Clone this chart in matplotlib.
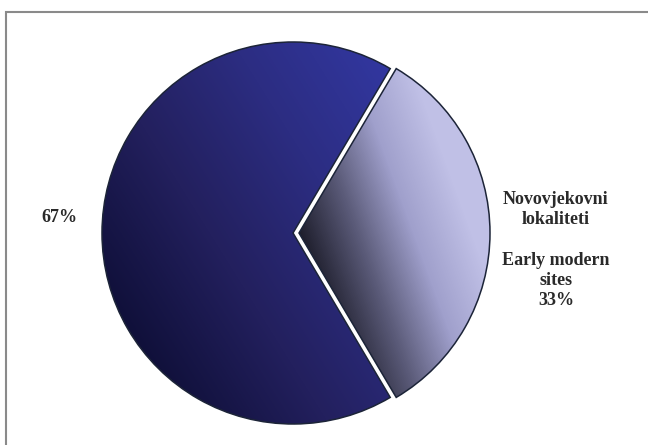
import numpy as np
import matplotlib
matplotlib.use('Agg')
import matplotlib.pyplot as plt
import matplotlib.colors as colors
from matplotlib.patches import Rectangle

# data
labels = ['', 'Novovjekovni\nlokaliteti\n\nEarly modern\nsites\n33%']
shares = [67, 33]
big_label = '67%'

W, H = 648, 445
fig = plt.figure(figsize=(W / 100, H / 100), dpi=100)
ax = fig.add_axes([0, 0, 1, 1])

cx, cy = 293, H - 233
radius = 191
start = 360 * shares[1] / 100 / 2  # small slice centred on 0 deg

# explode is in data units here (pixels)
wedges, _ = ax.pie(shares, startangle=start, counterclock=True, radius=radius,
                   center=(cx, cy), explode=[0, 6], frame=True,
                   wedgeprops=dict(facecolor='none', edgecolor='#1c2438', linewidth=1.1))

ax.set_xlim(0, W)
ax.set_ylim(0, H)
ax.set_aspect('equal')
ax.axis('off')

# gradient fills
grad_cmaps = [
    colors.LinearSegmentedColormap.from_list('big', ['#10103a', '#23205e', '#2c2d82', '#3237a0']),
    colors.LinearSegmentedColormap.from_list('small', ['#1e1e2c', '#5a5a78', '#a0a0cc', '#c0c0e6']),
]
grad_dirs = [32, 20]

xx, yy = np.meshgrid(np.arange(W) + 0.5, np.arange(H) + 0.5)
for i, w in enumerate(wedges):
    wc = w.center
    a = np.deg2rad(grad_dirs[i])
    p = (xx - wc[0]) * np.cos(a) + (yy - wc[1]) * np.sin(a)
    if i == 0:
        t = (p + radius) / (1.9 * radius)
    else:
        t = p / (0.85 * radius)
    t = np.clip(t, 0, 1)
    im = ax.imshow(t, cmap=grad_cmaps[i], vmin=0, vmax=1, origin='lower',
                   extent=(0, W, 0, H), interpolation='bilinear', zorder=0.5)
    im.set_clip_path(w)

ax.set_xlim(0, W)
ax.set_ylim(0, H)

font = dict(family=['Liberation Serif', 'DejaVu Serif'], fontweight='bold', color='#2a2a2a')
ax.text(59, H - 217, big_label, ha='center', va='center', fontsize=13, **font)
ax.text(556, H - 250, labels[1], ha='center', va='center', fontsize=13,
        linespacing=1.24, **font)

# outer frame
fig.patches.append(Rectangle((6 / W, -0.1), 1.2, (H - 12) / H + 0.1, transform=fig.transFigure,
                             fill=False, edgecolor='#8a8a8a', linewidth=1.5))

fig.savefig('out.png', dpi=100)
